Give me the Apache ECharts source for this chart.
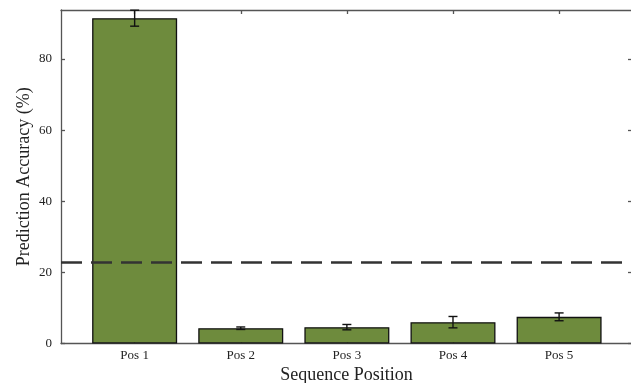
<!DOCTYPE html>
<html>
<head>
<meta charset="utf-8">
<script src="https://cdn.jsdelivr.net/npm/echarts@6/dist/echarts.min.js"></script>
<style>html,body{margin:0;padding:0;background:#fff}#c{width:631px;height:383px}</style>
</head>
<body>
<div id="c"></div>
<script>
const categories = ['Pos 1', 'Pos 2', 'Pos 3', 'Pos 4', 'Pos 5'];
const accuracy = [91.5, 4.3, 4.6, 6.0, 7.5];
const errors = [2.25, 0.35, 0.75, 1.6, 1.1];
const chanceLevel = 22.8;
const yTicks = [0, 20, 40, 60, 80];
const xTitle = 'Sequence Position';
const yTitle = 'Prediction Accuracy (%)';

const FONT = '"Liberation Serif", "DejaVu Serif", serif';
const AX = '#555';
const catIdx = categories.map((c, i) => i);
const xRange = { min: -0.694, max: 4.687 };
const yRange = { min: 0, max: 93.8 };

const chart = echarts.init(document.getElementById('c'), null, { renderer: 'canvas' });

const axLine = { show: true, onZero: false, lineStyle: { color: AX, width: 1.3 } };
const axTick = { show: true, inside: true, length: 4, lineStyle: { color: AX, width: 1.3 } };

chart.setOption({
  animation: false,
  backgroundColor: '#fff',
  grid: { left: 61, right: -1, top: 10, bottom: 39.5, containLabel: false, outerBoundsMode: 'none' },
  xAxis: [
    {
      type: 'value', min: xRange.min, max: xRange.max, position: 'bottom',
      axisLine: axLine,
      axisTick: Object.assign({ customValues: catIdx }, axTick),
      axisLabel: { customValues: catIdx, formatter: v => categories[Math.round(v)], fontFamily: FONT, fontSize: 13, color: '#222', margin: 6 },
      splitLine: { show: false },
      name: xTitle, nameLocation: 'middle', nameGap: 23, nameMoveOverlap: false,
      nameTextStyle: { fontFamily: FONT, fontSize: 18, color: '#222', verticalAlign: 'top' }
    },
    {
      type: 'value', min: xRange.min, max: xRange.max, position: 'top',
      axisLine: axLine,
      axisTick: Object.assign({ customValues: catIdx }, axTick),
      axisLabel: { show: false }, splitLine: { show: false }
    }
  ],
  yAxis: [
    {
      type: 'value', min: yRange.min, max: yRange.max, position: 'left',
      axisLine: axLine,
      axisTick: Object.assign({ customValues: yTicks }, axTick),
      axisLabel: { customValues: yTicks, fontFamily: FONT, fontSize: 13, color: '#222', margin: 9 },
      splitLine: { show: false },
      name: yTitle, nameLocation: 'middle', nameGap: 28, nameRotate: 90, nameMoveOverlap: false,
      nameTextStyle: { fontFamily: FONT, fontSize: 18, color: '#222' }
    },
    {
      type: 'value', min: yRange.min, max: yRange.max, position: 'right',
      axisLine: axLine,
      axisTick: Object.assign({ customValues: yTicks }, axTick),
      axisLabel: { show: false }, splitLine: { show: false }
    }
  ],
  series: [
    {
      type: 'bar',
      xAxisIndex: 0, yAxisIndex: 0,
      barWidth: 85,
      data: catIdx.map(i => [i, accuracy[i]]),
      itemStyle: { color: '#6e8b3d', borderColor: '#111', borderWidth: 1.3 },
      z: 2,
      markLine: {
        silent: true,
        symbol: ['none', 'none'],
        label: { show: false },
        lineStyle: { type: [21, 9], color: '#333', width: 2.5 },
        data: [{ yAxis: chanceLevel }],
        z: 3
      }
    },
    {
      type: 'custom',
      xAxisIndex: 0, yAxisIndex: 0,
      z: 4,
      data: catIdx.map(i => [i, accuracy[i] - errors[i], accuracy[i] + errors[i]]),
      renderItem: function (params, api) {
        const x = api.value(0);
        const lo = api.coord([x, api.value(1)]);
        const hi = api.coord([x, api.value(2)]);
        const hw = 4.5;
        const st = { stroke: '#111', lineWidth: 1.4 };
        return {
          type: 'group',
          children: [
            { type: 'line', shape: { x1: lo[0], y1: lo[1], x2: hi[0], y2: hi[1] }, style: st },
            { type: 'line', shape: { x1: lo[0] - hw, y1: lo[1], x2: lo[0] + hw, y2: lo[1] }, style: st },
            { type: 'line', shape: { x1: hi[0] - hw, y1: hi[1], x2: hi[0] + hw, y2: hi[1] }, style: st }
          ]
        };
      }
    }
  ]
});
</script>
</body>
</html>
